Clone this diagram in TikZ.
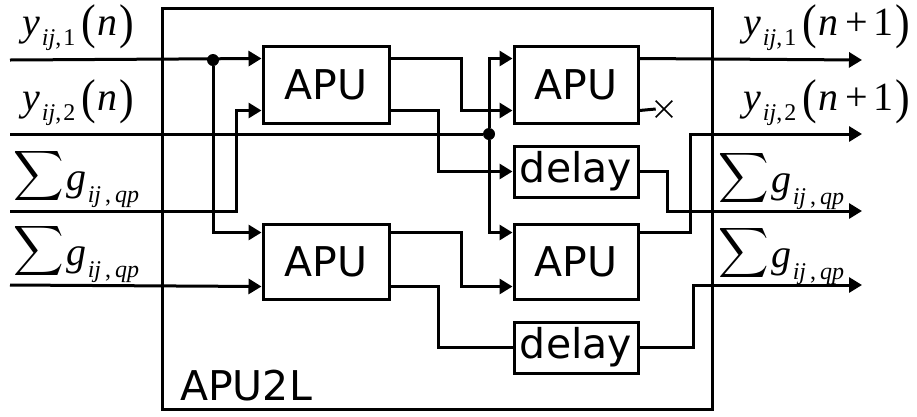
\documentclass[tikz,border=0pt]{standalone}
\usepackage{fontspec}
\usepackage{graphicx}
\usetikzlibrary{arrows.meta,shapes.misc}
\newfontfamily\tms{Liberation Serif}
\newfontfamily\dvs{DejaVu Sans}

% stretched round brackets
\newcommand\bigparen[1]{\raisebox{-3pt}{\scalebox{1.1}[1.22]{#1}}}
% y_{ij,k}(n ...)
\newcommand\ylab[2]{%
  \tms\fontsize{40}{40}\selectfont
  \textit{y}\kern2pt\raisebox{-10pt}{\fontsize{24}{24}\selectfont\textit{ij},\kern2pt #1}%
  \kern6pt\bigparen{(}\kern2pt\textit{n}#2\kern2pt\bigparen{)}}
% sum of g_{ij,qp}
\newcommand\glab{%
  \raisebox{5pt}{\scalebox{3.5}{$\displaystyle\sum$}}\kern3pt
  {\tms\fontsize{40}{40}\selectfont\textit{g}\kern1pt
  \raisebox{-12pt}{\fontsize{24}{24}\selectfont\textit{ij}\kern4pt,\kern4pt\textit{qp}}}}

\tikzset{
  wire/.style={line width=3pt},
  arr/.style={wire,-{Triangle[length=13pt,width=15pt]}},
  unit/.style={draw,line width=3pt,inner sep=0pt,font=\dvs\fontsize{41}{41}\selectfont},
  dot/.style={circle,fill,inner sep=0pt,minimum size=12pt},
  lab/.style={anchor=base west,inner sep=0pt},
}

\begin{document}
\begin{tikzpicture}[x=1pt,y=-1pt]
\useasboundingbox (0,0) rectangle (917,416);

% enclosing block
\node[draw,line width=3pt,minimum width=550,minimum height=401,inner sep=0pt] (chip) at (437,208.5) {};
\node[lab,font=\dvs\fontsize{41}{41}\selectfont] (chipname) at (180,400) {APU2L};

% processing units
\node[unit,minimum width=126,minimum height=77] (apu1) at (326,84.5) {APU};
\node[unit,minimum width=124,minimum height=77] (apu2) at (576,84.5) {APU};
\node[unit,minimum width=126,minimum height=75] (apu3) at (326,261.5) {APU};
\node[unit,minimum width=124,minimum height=75] (apu4) at (576,261.5) {APU};
\node[unit,minimum width=124,minimum height=51] (del1) at (576,171.5) {delay};
\node[unit,minimum width=124,minimum height=51] (del2) at (576,347.5) {delay};

% ports
\coordinate (apu1-it) at ([yshift=-14pt]apu1.north west);
\coordinate (apu1-ib) at ([yshift=14pt]apu1.south west);
\coordinate (apu1-ot) at ([yshift=-14pt]apu1.north east);
\coordinate (apu1-ob) at ([yshift=14pt]apu1.south east);
\coordinate (apu2-it) at ([yshift=-14pt]apu2.north west);
\coordinate (apu2-ib) at ([yshift=14pt]apu2.south west);
\coordinate (apu2-ot) at ([yshift=-14pt]apu2.north east);
\coordinate (apu2-ob) at ([yshift=14pt]apu2.south east);
\coordinate (apu3-it) at ([yshift=-10pt]apu3.north west);
\coordinate (apu3-ib) at ([yshift=14pt]apu3.south west);
\coordinate (apu3-ot) at ([yshift=-10pt]apu3.north east);
\coordinate (apu3-ob) at ([yshift=14pt]apu3.south east);
\coordinate (apu4-it) at ([yshift=-10pt]apu4.north west);
\coordinate (apu4-ib) at ([yshift=14pt]apu4.south west);
\coordinate (apu4-ot) at ([yshift=-10pt]apu4.north east);

% external terminals
\coordinate (in1) at (10,60);
\coordinate (in2) at (10,134);
\coordinate (in3) at (10,211);
\coordinate (in4) at (10,285);
\coordinate (out1) at (862,60);
\coordinate (out2) at (862,134);
\coordinate (out3) at (862,211);
\coordinate (out4) at (862,285);

% junctions and unused output
\node[dot] (j1) at (213,60) {};
\node[dot] (j2) at (489,134) {};
\node[cross out,draw,line width=1.6pt,minimum size=15pt,inner sep=0pt] (nc) at (664,109) {};

% first stage
\draw[arr] (in1) -- (apu1-it);
\draw[arr] (j1) |- (apu3-it);
\draw[arr] (in3) -| ([xshift=-25pt]apu1-ib) -- (apu1-ib);
\draw[arr] (in4) -- (apu3-ib);
\draw[wire] (in2) -- (j2);

% second stage
\draw[arr] (j2) |- (apu2-it);
\draw[arr] (j2) |- (apu4-it);
\draw[arr] (apu1-ot) -| ([xshift=-51pt]apu2-ib) -- (apu2-ib);
\draw[arr] (apu1-ob) -| ([xshift=-74pt]del1.west) -- (del1.west);
\draw[arr] (apu3-ot) -| ([xshift=-51pt]apu4-ib) -- (apu4-ib);
\draw[wire] (apu3-ob) -| ([xshift=-74pt]del2.west) -- (del2.west);

% outputs
\draw[arr] (apu2-ot) -- (out1);
\draw[wire] (apu2-ob) -- (nc.west);
\draw[arr] (del1.east) -- ([xshift=28pt]del1.east) |- (out3);
\draw[arr] (apu4-ot) -- ([xshift=51pt]apu4-ot) |- (out2);
\draw[arr] (del2.east) -- ([xshift=54pt]del2.east) |- (out4);

% signal names
\node[lab] (l1) at (22,35) {\ylab{1}{}};
\node[lab] (l2) at (22,110) {\ylab{2}{}};
\node[lab] (l3) at (13,190) {\glab};
\node[lab] (l4) at (13,265) {\glab};
\node[lab] (r1) at (743,35) {\ylab{1}{\kern7pt+\kern5pt1}};
\node[lab] (r2) at (743,110) {\ylab{2}{\kern7pt+\kern5pt1}};
\node[lab] (r3) at (718,192) {\glab};
\node[lab] (r4) at (718,267) {\glab};
\end{tikzpicture}
\end{document}
